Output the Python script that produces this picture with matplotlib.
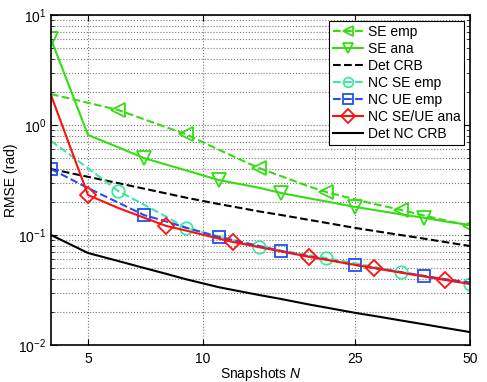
import numpy as np
import matplotlib
matplotlib.use('Agg')
import matplotlib.pyplot as plt
from matplotlib.ticker import FixedLocator, NullFormatter, LogLocator

plt.rcParams['font.family'] = ['Liberation Sans', 'DejaVu Sans']
plt.rcParams['mathtext.fontset'] = 'custom'
plt.rcParams['mathtext.rm'] = 'Liberation Sans'
plt.rcParams['mathtext.it'] = 'Liberation Sans:italic'

# snapshot counts (data grid)
N = [4, 5, 6, 7, 8, 9, 11, 12, 14, 16, 19, 21, 25, 28, 33, 38, 43, 50]

# RMSE values
se_emp = [1.91, 1.59, 1.37, 1.13, 0.955, 0.828, 0.596, 0.519, 0.407, 0.343, 0.275, 0.246,
          0.211, 0.192, 0.169, 0.150, 0.136, 0.121]
se_ana = [6.05, 0.811, 0.627, 0.501, 0.437, 0.388, 0.316, 0.298, 0.269, 0.241, 0.215, 0.202,
          0.180, 0.169, 0.154, 0.143, 0.133, 0.123]
det_crb = [0.398, 0.338, 0.296, 0.264, 0.239, 0.219, 0.191, 0.181, 0.164, 0.152, 0.137, 0.129,
           0.116, 0.109, 0.0998, 0.0925, 0.0863, 0.0794]
nc_se_emp = [0.716, 0.405, 0.251, 0.189, 0.147, 0.116, 0.097, 0.0899, 0.0778, 0.0721, 0.0653,
             0.0618, 0.0553, 0.0513, 0.0461, 0.0424, 0.0392, 0.0359]
nc_ue_emp = [0.398, 0.267, 0.197, 0.152, 0.133, 0.117, 0.0959, 0.0899, 0.0796, 0.0716, 0.064,
             0.0601, 0.0534, 0.0502, 0.0459, 0.0424, 0.0397, 0.037]
nc_ana = [1.87, 0.231, 0.176, 0.144, 0.121, 0.110, 0.0927, 0.0863, 0.0776, 0.071, 0.0631,
          0.0595, 0.0535, 0.0501, 0.0454, 0.0419, 0.039, 0.0359]
det_nc_crb = [0.100, 0.0686, 0.058, 0.0502, 0.0444, 0.0397, 0.0335, 0.0316, 0.0285, 0.0262,
              0.0233, 0.0219, 0.0196, 0.0184, 0.0167, 0.0154, 0.0143, 0.0131]

labels = ['SE emp', 'SE ana', 'Det CRB', 'NC SE emp', 'NC UE emp', 'NC SE/UE ana', 'Det NC CRB']
xticks = [5, 10, 25, 50]

green = '#33dd11'
teal = '#3ee8a0'
blue = '#2250ee'
red = '#ff1010'

fig = plt.figure(figsize=(4.87, 3.82), dpi=100)
ax = fig.add_axes([0.1047, 0.0969, 0.8604, 0.8638])

lw = 1.5
mA = slice(0, None, 3)   # 4, 7, 11, ...
mB = slice(1, None, 3)   # 5, 8, 12, ...
mC = slice(2, None, 3)   # 6, 9, 14, ...

ax.plot(N, se_emp, '--', color=green, lw=lw, marker='<', ms=10, mfc='none', mew=1.3,
        markevery=mC, label=labels[0])
ax.plot(N, se_ana, '-', color=green, lw=lw, marker='v', ms=10, mfc='none', mew=1.3,
        markevery=mA, label=labels[1])
ax.plot(N, det_crb, '--', color='black', lw=lw, label=labels[2])
ax.plot(N, nc_se_emp, '--', color=teal, lw=lw, marker='o', ms=9, mfc='none', mew=1.3,
        markevery=mC, label=labels[3])
ax.plot(N, nc_ue_emp, '--', color=blue, lw=lw, marker='s', ms=8, mfc='none', mew=1.3,
        markevery=mA, label=labels[4])
ax.plot(N, nc_ana, '-', color=red, lw=lw, marker='D', ms=8, mfc='none', mew=1.3,
        markevery=mB, label=labels[5])
ax.plot(N, det_nc_crb, '-', color='black', lw=lw, label=labels[6])

ax.set_xscale('log')
ax.set_yscale('log')
ax.set_xlim(4, 50)
ax.set_ylim(1e-2, 1e1)

ax.xaxis.set_major_locator(FixedLocator(xticks))
ax.xaxis.set_minor_locator(FixedLocator([]))
ax.set_xticklabels([str(t) for t in xticks])
ax.xaxis.set_minor_formatter(NullFormatter())
ax.yaxis.set_major_locator(LogLocator(base=10, numticks=10))
ax.yaxis.set_minor_locator(LogLocator(base=10, subs=np.arange(2, 10), numticks=20))
ax.yaxis.set_minor_formatter(NullFormatter())

ax.grid(True, which='major', ls=':', color='#777777', lw=0.8)
ax.grid(True, which='minor', axis='y', ls=':', color='#777777', lw=0.8)
ax.tick_params(which='both', direction='in', top=True, right=True, labelsize=10)
ax.tick_params(which='major', length=4)
ax.tick_params(axis='x', pad=5)
ax.tick_params(which='minor', length=2)
for s in ax.spines.values():
    s.set_linewidth(1.2)

ax.set_xlabel('Snapshots $N$', fontsize=10, labelpad=-1)
ax.set_ylabel('RMSE (rad)', fontsize=10, labelpad=0)

leg = ax.legend(loc='upper right', fontsize=10, numpoints=1, handlelength=2.2,
                handletextpad=0.3, labelspacing=0.22, borderpad=0.3, borderaxespad=0.4,
                fancybox=False, framealpha=1, edgecolor='black')
leg.get_frame().set_linewidth(0.8)
for h in leg.legend_handles:
    h.set_markersize(7)

fig.savefig('out.png', dpi=100)
